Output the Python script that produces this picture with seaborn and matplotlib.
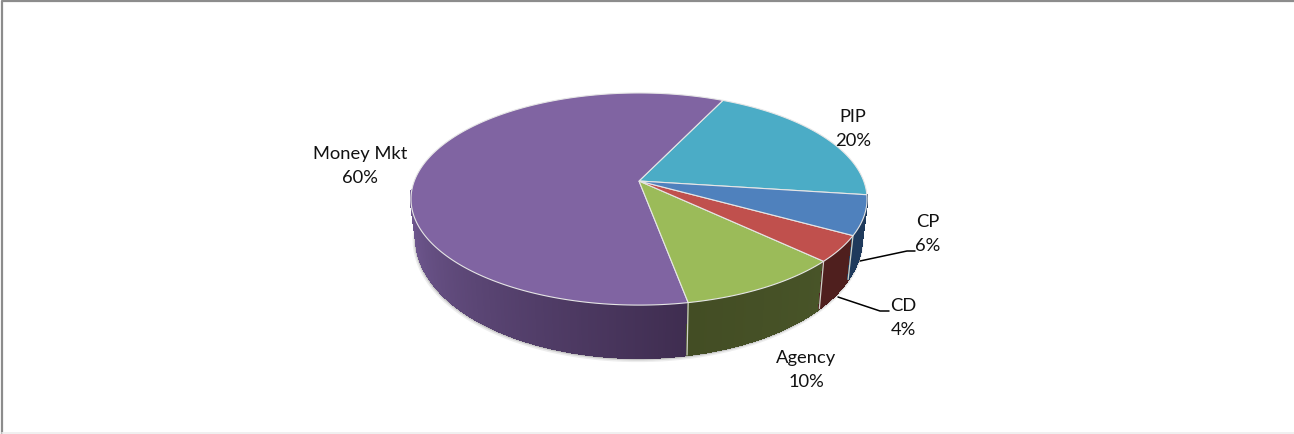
import numpy as np
import matplotlib
matplotlib.use("Agg")
import matplotlib.pyplot as plt
from matplotlib.path import Path
from matplotlib.transforms import Transform
import seaborn as sns

# Portfolio allocation, listed counter-clockwise from the right-hand side
names = ["PIP", "Money Mkt", "Agency", "CD", "CP"]
shares = [20, 60, 10, 4, 6]
top_colors = ["#4bacc6", "#8064a2", "#9bbb59", "#c0504d", "#4f81bd"]
wall_near = ["#1f4f5c", "#745c96", "#434d24", "#4f1f1e", "#1f3a5c"]
wall_far = ["#1f4f5c", "#3f2d50", "#485428", "#4f1f1e", "#1f3a5c"]
label_pos = [(853, 129), (360, 166), (806, 370), (903, 318), (928, 234)]

START = -7.5          # degrees, where the first slice begins
CX, CY = 639.0, 182.0  # apex of the pie in pixel space
A, B, K = 103.0, 224.7, 0.17  # perspective of the top face


class TiltedDisk(Transform):
    """Projects the unit disk onto the tilted, foreshortened top face."""
    input_dims = output_dims = 2
    is_affine = False

    def transform_non_affine(self, values):
        values = np.asarray(values, dtype=float)
        u, v = values[:, 0], values[:, 1]
        w = 1 + K * v
        return np.column_stack([CX + B * u / w, CY - A * v / w])

    def transform_path_non_affine(self, path):
        # Flatten the arcs first, so the rim stays smooth under the projection
        big = Path(path.vertices * 2000, path.codes)
        outline = np.vstack(big.to_polygons(closed_only=True)) / 2000
        return Path(self.transform_non_affine(outline), closed=True)


def rim(theta):
    t = np.radians(theta)
    return TiltedDisk().transform_non_affine(np.column_stack([np.cos(t), np.sin(t)]))


def lower(xy):
    # Bottom edge of the wall: pulled in sideways, dropped and stretched downward
    return np.column_stack([CX + 0.977 * (xy[:, 0] - CX),
                            CY + 37 + 1.127 * (xy[:, 1] - CY)])


sns.set_theme(style="white")
plt.rcParams["font.family"] = ["Lato", "DejaVu Sans"]

fig = plt.figure(figsize=(12.94, 4.35), dpi=100, facecolor="white")
ax = fig.add_axes([0, 0, 1, 1])

edges = START + np.concatenate([[0], np.cumsum(shares)]) * 3.6

# Soft shadow hugging the underside of the wall
sweep = np.linspace(185, 352, 240)
under = lower(rim(sweep))
for off, lw, alpha in [(1.5, 4, 0.10), (1.0, 2.5, 0.18), (0.5, 1.4, 0.35)]:
    ax.plot(under[:, 0] - off * 0.6, under[:, 1] + off, color="#555555",
            lw=lw, alpha=alpha, zorder=1, solid_capstyle="round")

# Outer wall, built from thin shaded strips
for i, (a0, a1) in enumerate(zip(edges[:-1], edges[1:])):
    lo, hi = max(a0, 185), min(a1, 360 + START + 1)
    if i == 4:
        lo, hi = a0, a1
    if hi <= lo:
        continue
    theta = np.linspace(lo, hi, max(int(hi - lo) * 2, 6))
    top = rim(theta)
    bot = lower(top)
    ramp = sns.blend_palette([wall_near[i], wall_far[i]], n_colors=len(theta))
    for j in range(len(theta) - 1):
        quad = np.vstack([top[j], top[j + 1], bot[j + 1], bot[j]])
        ax.fill(quad[:, 0], quad[:, 1], facecolor=ramp[j], edgecolor=ramp[j],
                lw=1.0, antialiased=False, zorder=2)

# Pale seams where the slices meet on the wall
for a in edges[2:5]:
    top = rim(np.array([a]))
    bot = lower(top)
    ax.plot([top[0, 0], bot[0, 0]], [top[0, 1], bot[0, 1]],
            color="#cfd2c8", lw=0.9, zorder=3)

# Top face
wedges, _ = ax.pie(shares, colors=top_colors, startangle=START, counterclock=True,
                   radius=1, wedgeprops={"edgecolor": "#e6e6e6", "linewidth": 0.8})
face = TiltedDisk() + ax.transData
for w in wedges:
    w.set_transform(face)
    w.set_zorder(4)

# Labels and their leader lines
for name, share, (x, y) in zip(names, shares, label_pos):
    ax.text(x, y, f"{name}\n{share}%", ha="center", va="center", fontsize=13.2,
            color="#111111", linespacing=1.62, zorder=6)
ax.plot([860, 907, 915], [262, 252, 252], color="black", lw=1.1, zorder=5)
ax.plot([838, 880, 889], [298, 312, 312], color="black", lw=1.1, zorder=5)

ax.set_aspect("auto")
ax.set_xlim(0, 1294)
ax.set_ylim(435, 0)
ax.axis("off")

# Chart-area frame
ax.plot([2, 2, 1294], [435, 2, 2], color="#8c8c8c", lw=1.6, zorder=7, clip_on=False)
ax.plot([2, 1294], [434.3, 434.3], color="#eeeeee", lw=1.2, zorder=7)

fig.savefig("out.png", dpi=100, facecolor="white")
